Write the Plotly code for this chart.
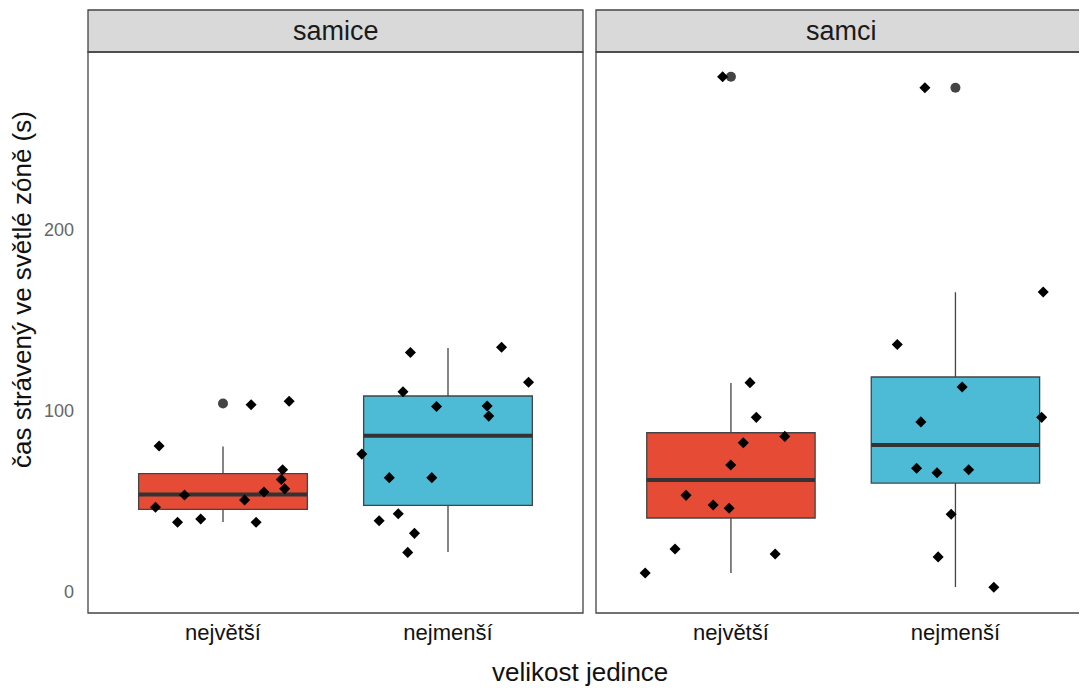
import plotly.graph_objects as go

# ---------------- data ----------------
facets = ["samice", "samci"]
categories = ["největší", "nejmenší"]
y_ticks = [0, 100, 200]

# box statistics (per category: největší, nejmenší)
samice_q1 = [45.5, 47.7]
samice_median = [53.7, 86.2]
samice_q3 = [65.2, 108.1]
samice_lower = [38.5, 21.9]
samice_upper = [80.2, 134.6]
samice_outliers = [[104.0], []]

samci_q1 = [40.7, 60.0]
samci_median = [61.7, 81.0]
samci_q3 = [87.8, 118.6]
samci_lower = [10.3, 2.6]
samci_upper = [115.3, 165.4]
samci_outliers = [[284.5], [278.4]]

# individual observations (values) and their horizontal jitter
samice_nejvetsi = [80.5, 103.3, 105.2, 53.4, 46.6, 38.3, 40.1, 38.3, 50.6, 55.1, 62.0, 67.4, 56.8]
samice_nejvetsi_jit = [-0.284, 0.125, 0.294, -0.171, -0.30, -0.202, -0.099, 0.147, 0.096, 0.182, 0.259, 0.265, 0.274]
samice_nejmensi = [132.2, 135.0, 115.7, 110.5, 102.3, 102.6, 97.0, 76.0, 63.0, 63.0, 43.0, 39.2, 32.2, 21.7]
samice_nejmensi_jit = [-0.167, 0.238, 0.358, -0.20, -0.051, 0.174, 0.181, -0.383, -0.261, -0.072, -0.221, -0.306, -0.149, -0.179]
samci_nejvetsi = [115.5, 96.3, 85.8, 82.3, 70.0, 53.2, 47.9, 46.1, 23.6, 20.8, 10.3, 284.5]
samci_nejvetsi_jit = [0.085, 0.113, 0.24, 0.055, -0.001, -0.20, -0.079, -0.008, -0.249, 0.197, -0.382, -0.037]
samci_nejmensi = [165.6, 136.6, 113.1, 93.8, 96.3, 68.2, 65.7, 67.4, 42.8, 19.2, 2.4, 278.4]
samci_nejmensi_jit = [0.391, -0.259, 0.03, -0.154, 0.384, -0.173, -0.082, 0.059, -0.019, -0.077, 0.171, -0.136]

# ---------------- styling ----------------
FONT = "Liberation Sans, Arial, Helvetica, sans-serif"
fills = ["#E64B35", "#4DBBD5"]
BOX_W = 0.75

stats = [
    (samice_q1, samice_median, samice_q3, samice_lower, samice_upper, samice_outliers,
     [(samice_nejvetsi, samice_nejvetsi_jit), (samice_nejmensi, samice_nejmensi_jit)]),
    (samci_q1, samci_median, samci_q3, samci_lower, samci_upper, samci_outliers,
     [(samci_nejvetsi, samci_nejvetsi_jit), (samci_nejmensi, samci_nejmensi_jit)]),
]

fig = go.Figure()
axes = [("x", "y"), ("x2", "y2")]

for f, (q1, med, q3, lo, up, outl, pts) in enumerate(stats):
    xa, ya = axes[f]
    for j in range(len(categories)):
        xc = j + 1
        fig.add_trace(go.Box(
            x=[xc], q1=[q1[j]], median=[med[j]], q3=[q3[j]],
            lowerfence=[lo[j]], upperfence=[up[j]],
            width=BOX_W, whiskerwidth=0, boxpoints=False,
            fillcolor=fills[j], line=dict(color="#444444", width=1.3),
            xaxis=xa, yaxis=ya, showlegend=False, hoverinfo="skip"))
        fig.add_trace(go.Scatter(
            x=[xc - BOX_W / 2, xc + BOX_W / 2], y=[med[j], med[j]],
            mode="lines", line=dict(color="#333333", width=4),
            xaxis=xa, yaxis=ya, showlegend=False, hoverinfo="skip"))
        if outl[j]:
            fig.add_trace(go.Scatter(
                x=[xc] * len(outl[j]), y=outl[j], mode="markers",
                marker=dict(symbol="circle", size=10, color="#444444"),
                xaxis=xa, yaxis=ya, showlegend=False, hoverinfo="skip"))
    for j in range(len(categories)):
        vals, jit = pts[j]
        fig.add_trace(go.Scatter(
            x=[j + 1 + d for d in jit], y=vals, mode="markers",
            marker=dict(symbol="diamond", size=8.5, color="#000000"),
            xaxis=xa, yaxis=ya, showlegend=False, hoverinfo="skip"))

# page body adds an 8 px offset; the figure is sized so it ends at the window edge
OFF = 8
W, H = 1087 - OFF, 688 - OFF
ML, MR, MT, MB = 88 - OFF, 0, 52 - OFF, 75
PW = W - ML - MR
PH = H - MT - MB

def px_x(p):  # screen pixel -> paper x
    return (p - OFF - ML) / PW

def px_y(p):  # screen pixel -> paper y
    return (H - MB - (p - OFF)) / PH

dom1 = [0.0, px_x(583)]
dom2 = [px_x(596), 1.0]

xcommon = dict(tickvals=[1, 2], ticktext=categories, showgrid=False, zeroline=False,
               showline=False, ticks="", ticklabelstandoff=4,
               tickfont=dict(family=FONT, size=22, color="#111111"))
fig.update_layout(
    width=W, height=H,
    margin=dict(l=ML, r=MR, t=MT, b=MB),
    paper_bgcolor="white", plot_bgcolor="white",
    font=dict(family=FONT),
    xaxis=dict(domain=dom1, range=[0.4, 2.6], anchor="y", **xcommon),
    xaxis2=dict(domain=dom2, range=[0.399, 2.586], anchor="y2", **xcommon),
    yaxis=dict(range=[-11.8, 298.2], tickvals=y_ticks, showgrid=False, zeroline=False,
               showline=False, ticks="", ticklabelstandoff=13,
               tickfont=dict(family=FONT, size=18, color="#666666"), anchor="x"),
    yaxis2=dict(matches="y", range=[-11.8, 298.2], showticklabels=False, showgrid=False,
                zeroline=False, showline=False, ticks="", anchor="x2"),
)

shapes = []
annotations = []
for f, xa in enumerate(["x", "x2"]):
    shapes.append(dict(type="rect", xref=f"{xa} domain", yref="paper",
                       x0=0, x1=1, y0=0, y1=1, line=dict(color="#444444", width=1.3),
                       fillcolor="rgba(0,0,0,0)", layer="above"))
    shapes.append(dict(type="rect", xref=f"{xa} domain", yref="paper",
                       x0=0, x1=1, y0=1, y1=px_y(10), line=dict(color="#444444", width=1.3),
                       fillcolor="#D9D9D9", layer="below"))
    annotations.append(dict(text=facets[f], xref=f"{xa} domain", yref="paper",
                            x=0.5, y=px_y(31), xanchor="center", yanchor="middle",
                            showarrow=False, font=dict(family=FONT, size=27, color="#1a1a1a")))

annotations.append(dict(text="velikost jedince", xref="paper", yref="paper",
                        x=px_x(580), y=px_y(672), xanchor="center", yanchor="middle",
                        showarrow=False, font=dict(family=FONT, size=26, color="#111111")))
annotations.append(dict(text="čas strávený ve světlé zóně (s)", xref="paper", yref="paper",
                        x=px_x(22), y=px_y(290), xanchor="center", yanchor="middle",
                        textangle=-90, showarrow=False,
                        font=dict(family=FONT, size=26, color="#111111")))
fig.update_layout(shapes=shapes, annotations=annotations)

fig.write_html("out.html")
